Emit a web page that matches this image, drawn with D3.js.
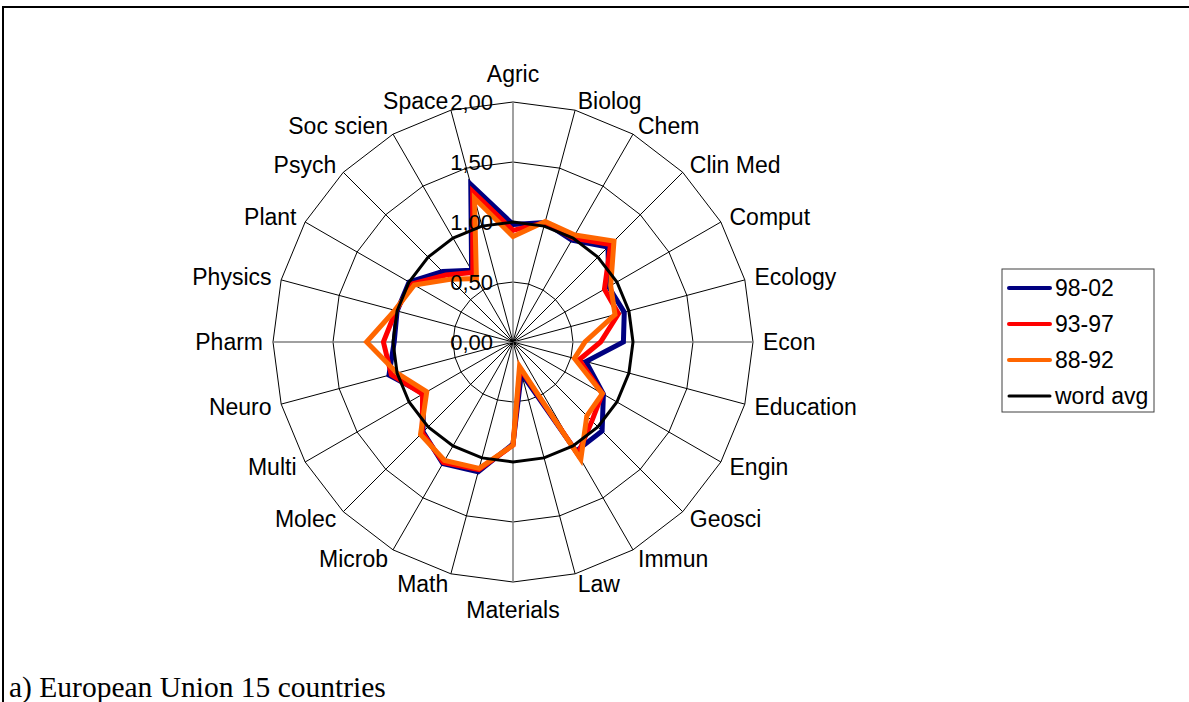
<!DOCTYPE html>
<html lang="en">
<head>
  <meta charset="utf-8">
  <title>EU15 radar</title>
  <script src="https://cdn.jsdelivr.net/npm/d3@7"></script>
  <style>
    body { margin: 0; background: #fff; }
    text { font-family: "Liberation Sans", Arial, sans-serif; }
    text.caption { font-family: "Liberation Serif", "Times New Roman", serif; }
  </style>
</head>
<body>
<script>
// categories around the radar, clockwise from the top
var categories = ["Agric", "Biolog", "Chem", "Clin Med", "Comput", "Ecology", "Econ",
  "Education", "Engin", "Geosci", "Immun", "Law", "Materials", "Math", "Microb",
  "Molec", "Multi", "Neuro", "Pharm", "Physics", "Plant", "Psych", "Soc scien", "Space"];

var s9802 = [0.98, 1.03, 0.98, 1.12, 0.92, 0.96, 0.92, 0.63, 0.87, 1.05, 1.05, 0.27,
  0.85, 1.12, 1.17, 1.06, 0.86, 1.07, 0.99, 1.00, 1.00, 0.83, 0.69, 1.36];
var s9397 = [0.93, 1.03, 1.00, 1.15, 0.88, 0.91, 0.73, 0.57, 0.86, 0.93, 1.08, 0.23,
  0.86, 1.10, 1.16, 1.07, 0.87, 1.05, 1.08, 1.01, 0.97, 0.79, 0.67, 1.30];
var s8892 = [0.88, 1.04, 1.03, 1.19, 0.94, 0.88, 0.60, 0.53, 0.86, 0.87, 1.13, 0.21,
  0.86, 1.09, 1.14, 1.09, 0.83, 1.00, 1.22, 1.02, 0.95, 0.74, 0.61, 1.24];
var worldAvg = [1, 1, 1, 1, 1, 1, 1, 1, 1, 1, 1, 1, 1, 1, 1, 1, 1, 1, 1, 1, 1, 1, 1, 1];

var tickValues = [0, 0.5, 1, 1.5, 2];
var tickLabels = ["0,00", "0,50", "1,00", "1,50", "2,00"];

var seriesNames = ["98-02", "93-97", "88-92", "word avg"];
var seriesData = [s9802, s9397, s8892, worldAvg];
var seriesColors = ["#000080", "#ff0000", "#ff6600", "#000000"];
var seriesWidths = [5, 5, 5, 3];

var width = 1189, height = 702;
var cx = 513, cy = 342;
var n = categories.length;

var r = d3.scaleLinear().domain([0, 2]).range([0, 240]);
var angle = d3.scaleLinear().domain([0, n]).range([0, 2 * Math.PI]);

var svg = d3.select("body").append("svg")
  .attr("width", width)
  .attr("height", height);

// frame (top + left only)
svg.append("line").attr("x1", 3).attr("y1", 7).attr("x2", width).attr("y2", 7)
  .attr("stroke", "#000").attr("stroke-width", 2);
svg.append("line").attr("x1", 3).attr("y1", 6).attr("x2", 3).attr("y2", height)
  .attr("stroke", "#000").attr("stroke-width", 2);

var g = svg.append("g").attr("transform", "translate(" + cx + "," + cy + ")");

// rings
var ringLine = d3.lineRadial()
  .angle(function(d, i) { return angle(i); })
  .radius(function(d) { return r(d); })
  .curve(d3.curveLinearClosed);

tickValues.slice(1).forEach(function(v) {
  g.append("path")
    .attr("d", ringLine(categories.map(function() { return v; })))
    .attr("fill", "none")
    .attr("stroke", "#000")
    .attr("stroke-width", 1);
});

// spokes
g.selectAll(".spoke")
  .data(categories)
  .enter().append("line")
  .attr("class", "spoke")
  .attr("x1", 0).attr("y1", 0)
  .attr("x2", function(d, i) { return r(2) * Math.sin(angle(i)); })
  .attr("y2", function(d, i) { return -r(2) * Math.cos(angle(i)); })
  .attr("stroke", function(d, i) { return i % 6 === 0 ? "#808080" : "#000"; })
  .attr("stroke-width", function(d, i) { return i % 6 === 0 ? 1.5 : 1; });

// category labels
g.selectAll(".cat")
  .data(categories)
  .enter().append("text")
  .attr("class", "cat")
  .attr("x", function(d, i) { return 250 * Math.sin(angle(i)); })
  .attr("y", function(d, i) {
    var s = Math.sin(angle(i)), c = Math.cos(angle(i));
    var y = -250 * c;
    if (Math.abs(s) < 0.01) y -= c * 18;
    return y;
  })
  .attr("dy", "0.35em")
  .attr("text-anchor", function(d, i) {
    var s = Math.sin(angle(i));
    return Math.abs(s) < 0.01 ? "middle" : (s > 0 ? "start" : "end");
  })
  .attr("font-size", "23px")
  .text(function(d) { return d; });

// series
var seriesLine = d3.lineRadial()
  .angle(function(d, i) { return angle(i); })
  .radius(function(d) { return r(d); })
  .curve(d3.curveLinearClosed);

seriesData.forEach(function(data, k) {
  g.append("path")
    .attr("d", seriesLine(data))
    .attr("fill", "none")
    .attr("stroke", seriesColors[k])
    .attr("stroke-width", seriesWidths[k]);
});

// value axis labels
g.selectAll(".tick")
  .data(tickValues)
  .enter().append("text")
  .attr("class", "tick")
  .attr("x", -20)
  .attr("y", function(d) { return -r(d); })
  .attr("dy", "0.35em")
  .attr("text-anchor", "end")
  .attr("font-size", "22px")
  .text(function(d, i) { return tickLabels[i]; });

// legend
var legend = svg.append("g").attr("transform", "translate(1002,269)");
legend.append("rect")
  .attr("width", 152).attr("height", 143)
  .attr("fill", "#fff")
  .attr("stroke", "#404040").attr("stroke-width", 1);

var item = legend.selectAll(".item")
  .data(seriesNames)
  .enter().append("g")
  .attr("class", "item")
  .attr("transform", function(d, i) { return "translate(0," + (19 + i * 36) + ")"; });

item.append("line")
  .attr("x1", 7).attr("x2", 48)
  .attr("stroke", function(d, i) { return seriesColors[i]; })
  .attr("stroke-width", function(d, i) { return i < 3 ? 4 : 3; })
  .attr("stroke-linecap", "round");

item.append("text")
  .attr("x", 53)
  .attr("dy", "0.35em")
  .attr("font-size", "23px")
  .text(function(d) { return d; });

// caption
svg.append("text")
  .attr("class", "caption")
  .attr("x", 9)
  .attr("y", 697)
  .attr("font-size", "29.5px")
  .text("a) European Union 15 countries");
</script>
</body>
</html>
